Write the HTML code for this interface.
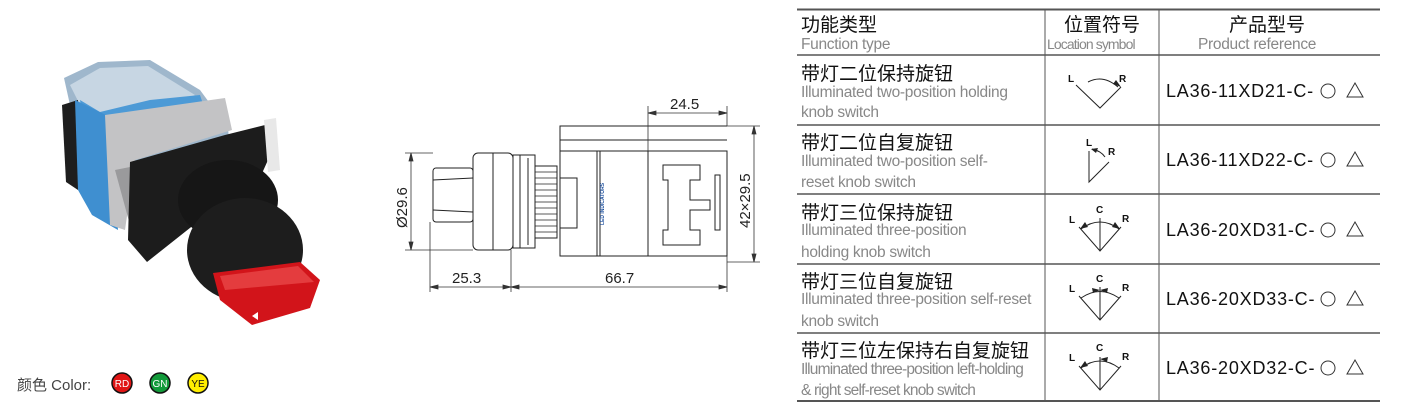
<!DOCTYPE html>
<html><head><meta charset="utf-8"><style>
body{margin:0;width:1403px;height:418px;background:#fff;overflow:hidden;position:relative;font-family:"Liberation Sans","Noto Sans CJK SC",sans-serif}
</style></head><body>
<svg width="1403" height="418" style="position:absolute;left:0;top:0" font-family="Liberation Sans, Noto Sans CJK SC, sans-serif">
<!-- photo -->
<polygon points="64,78 98,62 150,60 200,90 228,128 230,150 150,175 80,150" fill="#9fb7cc"/>
<polygon points="70,85 100,68 148,66 195,95 160,110 110,118 80,105" fill="#c7d6e3"/>
<polygon points="80,100 100,112 150,100 200,95 205,110 150,125 100,125 82,112" fill="#4d9ad6"/>
<polygon points="62,105 78,100 78,190 66,182" fill="#1e1e1e"/>
<polygon points="75,100 112,118 118,230 92,215 78,190" fill="#3f8fd0"/>
<polygon points="105,115 225,98 232,130 200,140 135,160 125,230 110,225" fill="#c3c3c5"/>
<polygon points="115,170 140,165 150,235 130,225" fill="#9a9a9c"/>
<polygon points="130,162 225,135 265,125 268,160 250,200 200,220 147,262 128,240" fill="#1c1c1c"/>
<polygon points="264,120 276,118 280,170 268,172" fill="#e8e8e8"/>
<ellipse cx="228" cy="200" rx="50" ry="40" fill="#161616"/>
<ellipse cx="245" cy="250" rx="58" ry="52" fill="#1d1d1d"/>
<polygon points="213,273 300,262 320,280 310,308 252,325 220,300" fill="#d2141a"/>
<polygon points="220,276 298,266 314,282 225,290" fill="#e43c3e"/>
<polygon points="252,316 258,312 258,320" fill="#fff"/>
<!-- colors -->
<circle cx="122" cy="383" r="10" fill="#e01515" stroke="#111" stroke-width="1.5"/>
<circle cx="160" cy="383" r="10" fill="#129a3a" stroke="#111" stroke-width="1.5"/>
<circle cx="198" cy="383" r="10" fill="#ffee00" stroke="#111" stroke-width="1.5"/>
<text x="122" y="387" font-size="10" fill="#fff" text-anchor="middle">RD</text>
<text x="160" y="387" font-size="10" fill="#fff" text-anchor="middle">GN</text>
<text x="198" y="387" font-size="10" fill="#111" text-anchor="middle">YE</text>
<text x="17" y="390" font-size="15" fill="#444">颜色 Color:</text>

<!-- drawing -->
<g stroke="#222" stroke-width="1" fill="none">
<rect x="433" y="168" width="40" height="54" rx="3"/>
<line x1="433" y1="180" x2="473" y2="178"/><line x1="433" y1="210" x2="473" y2="212"/>
<rect x="473" y="153" width="40" height="97" rx="5"/>
<line x1="493" y1="153" x2="493" y2="250"/>
<rect x="513" y="155" width="22" height="93"/>
<line x1="520" y1="155" x2="520" y2="248"/><line x1="528" y1="158" x2="528" y2="245"/>
<rect x="535" y="166" width="22" height="72"/>
<g stroke-width="0.7"><line x1="535" y1="172" x2="557" y2="172"/><line x1="535" y1="178" x2="557" y2="178"/><line x1="535" y1="184" x2="557" y2="184"/><line x1="535" y1="190" x2="557" y2="190"/><line x1="535" y1="196" x2="557" y2="196"/><line x1="535" y1="202" x2="557" y2="202"/><line x1="535" y1="208" x2="557" y2="208"/><line x1="535" y1="214" x2="557" y2="214"/><line x1="535" y1="220" x2="557" y2="220"/><line x1="535" y1="226" x2="557" y2="226"/><line x1="535" y1="232" x2="557" y2="232"/></g>
<path d="M560,151 L560,126 L727,126 M560,151 L727,151 L727,256 L560,256 Z"/>
<line x1="560" y1="140" x2="727" y2="140"/>
<line x1="597" y1="151" x2="597" y2="256"/><line x1="600" y1="151" x2="600" y2="256"/>
<line x1="648" y1="151" x2="648" y2="256"/>
<path d="M663,165 L700,165 L700,180 L690,180 L690,200 L710,200 L710,210 L690,210 L690,230 L700,230 L700,245 L663,245 L663,230 L668,230 L668,180 L663,180 Z"/>
<rect x="715" y="175" width="5" height="55"/>
<rect x="560" y="178" width="17" height="50"/>
</g>
<text x="0" y="0" font-size="5" fill="#1d4f9c" font-weight="bold" transform="translate(604,225) rotate(-90)">LED INDICATORS</text>
<!-- dims -->
<g stroke="#333" stroke-width="0.8" fill="#333">
<line x1="430" y1="222" x2="430" y2="292"/><line x1="511" y1="250" x2="511" y2="292"/><line x1="727" y1="256" x2="727" y2="292"/>
<line x1="430" y1="287" x2="727" y2="287"/>
<line x1="648" y1="106" x2="648" y2="151"/><line x1="727" y1="106" x2="727" y2="126"/>
<line x1="648" y1="113" x2="727" y2="113"/>
<line x1="405" y1="153" x2="433" y2="153"/><line x1="405" y1="250" x2="473" y2="250"/>
<line x1="411" y1="153" x2="411" y2="250"/>
<line x1="727" y1="126" x2="760" y2="126"/><line x1="727" y1="262" x2="760" y2="262"/>
<line x1="754" y1="126" x2="754" y2="262"/>
<polygon points="430,287 438,285 438,289"/><polygon points="511,287 503,285 503,289"/><polygon points="511,287 519,285 519,289"/><polygon points="727,287 719,285 719,289"/>
<polygon points="648,113 656,111 656,115"/><polygon points="727,113 719,111 719,115"/>
<polygon points="411,153 409,161 413,161"/><polygon points="411,250 409,242 413,242"/>
<polygon points="754,126 752,134 756,134"/><polygon points="754,262 752,254 756,254"/>
</g>
<g font-size="15" fill="#222">
<text x="452" y="283">25.3</text><text x="605" y="283">66.7</text><text x="670" y="109">24.5</text>
<text transform="translate(407,228) rotate(-90)">Ø29.6</text>
<text transform="translate(750,228) rotate(-90)">42×29.5</text>
</g>

<!-- table -->
<g stroke="#555" fill="none">
<line x1="797" y1="9.5" x2="1380" y2="9.5" stroke-width="2"/>
<line x1="797" y1="55" x2="1380" y2="55" stroke-width="1.5"/>
<line x1="797" y1="125" x2="1380" y2="125" stroke-width="1.5"/>
<line x1="797" y1="194" x2="1380" y2="194" stroke-width="1.5"/>
<line x1="797" y1="264" x2="1380" y2="264" stroke-width="1.5"/>
<line x1="797" y1="333" x2="1380" y2="333" stroke-width="1.5"/>
<line x1="797" y1="401" x2="1380" y2="401" stroke-width="2"/>
<line x1="1045" y1="9" x2="1045" y2="401"/>
<line x1="1159" y1="9" x2="1159" y2="401"/>
</g>
<g font-size="19" fill="#111">
<text x="801" y="31">功能类型</text><text x="1064" y="31">位置符号</text><text x="1229" y="31">产品型号</text>
<text x="801" y="80">带灯二位保持旋钮</text><text x="801" y="149">带灯二位自复旋钮</text>
<text x="801" y="219">带灯三位保持旋钮</text><text x="801" y="288">带灯三位自复旋钮</text>
<text x="801" y="357">带灯三位左保持右自复旋钮</text>
</g>
<g font-size="15.5" fill="#888" letter-spacing="-0.3">
<text x="801" y="49">Function type</text>
<text x="1047" y="49" font-size="14" letter-spacing="-0.9">Location symbol</text>
<text x="1198" y="49">Product reference</text>
<text x="801" y="97">Illuminated two-position holding</text><text x="801" y="117">knob switch</text>
<text x="801" y="166">Illuminated two-position self-</text><text x="801" y="187">reset knob switch</text>
<text x="801" y="235">Illuminated three-position</text><text x="801" y="257">holding knob switch</text>
<text x="801" y="304">Illuminated three-position self-reset</text><text x="801" y="326">knob switch</text>
<text x="801" y="374" letter-spacing="-0.8">Illuminated three-position left-holding</text><text x="801" y="395" letter-spacing="-0.8">&amp; right self-reset knob switch</text>
</g>
<g font-size="18" fill="#111" letter-spacing="0.8">
<text x="1166" y="97">LA36-11XD21-C-</text>
<text x="1166" y="166">LA36-11XD22-C-</text>
<text x="1166" y="236">LA36-20XD31-C-</text>
<text x="1166" y="305">LA36-20XD33-C-</text>
<text x="1166" y="374">LA36-20XD32-C-</text>
</g>
<g stroke="#333" stroke-width="1" fill="none">
<circle cx="1328" cy="91" r="7"/><path d="M1347,97 L1363,97 L1355,83 Z"/>
<circle cx="1328" cy="160" r="7"/><path d="M1347,166 L1363,166 L1355,152 Z"/>
<circle cx="1328" cy="230" r="7"/><path d="M1347,236 L1363,236 L1355,222 Z"/>
<circle cx="1328" cy="299" r="7"/><path d="M1347,305 L1363,305 L1355,291 Z"/>
<circle cx="1328" cy="368" r="7"/><path d="M1347,374 L1363,374 L1355,360 Z"/>
</g>
<!-- symbols -->
<g stroke="#222" stroke-width="1" fill="none">
<path d="M1076,85 L1100,108 L1121,87"/><path d="M1088,82 Q1103,74 1118,87"/>
<path d="M1089,151 L1089,182 L1109,162"/><path d="M1092,149 Q1101,151 1105,157"/>
<path d="M1079,227 L1100,251 L1121,227 M1100,218 L1100,251"/><path d="M1081,229 Q1100,215 1119,229"/>
<path d="M1079,296 L1100,320 L1121,296 M1100,287 L1100,320"/><path d="M1081,298 Q1100,285 1119,298"/>
<path d="M1079,366 L1100,390 L1121,366 M1100,357 L1100,390"/><path d="M1081,368 Q1100,354 1119,368"/>
</g>
<g fill="#222">
<polygon points="1121,87 1113,84 1116,80"/>
<polygon points="1091,149 1098,148 1096,153"/>
<polygon points="1080,229 1085,222 1088,227"/><polygon points="1120,229 1112,227 1115,222"/>
<polygon points="1100,290 1092,288 1093,293"/><polygon points="1100,290 1108,288 1107,293"/>
<polygon points="1080,368 1085,361 1088,366"/><polygon points="1100,359 1108,357 1107,362"/>
</g>
<g font-size="10" font-weight="bold" fill="#111">
<text x="1068" y="82">L</text><text x="1119" y="82">R</text>
<text x="1086" y="146">L</text><text x="1108" y="155">R</text>
<text x="1069" y="223">L</text><text x="1096" y="213">C</text><text x="1122" y="222">R</text>
<text x="1069" y="292">L</text><text x="1096" y="282">C</text><text x="1122" y="291">R</text>
<text x="1069" y="361">L</text><text x="1096" y="351">C</text><text x="1122" y="360">R</text>
</g>
</svg>
</body></html>
